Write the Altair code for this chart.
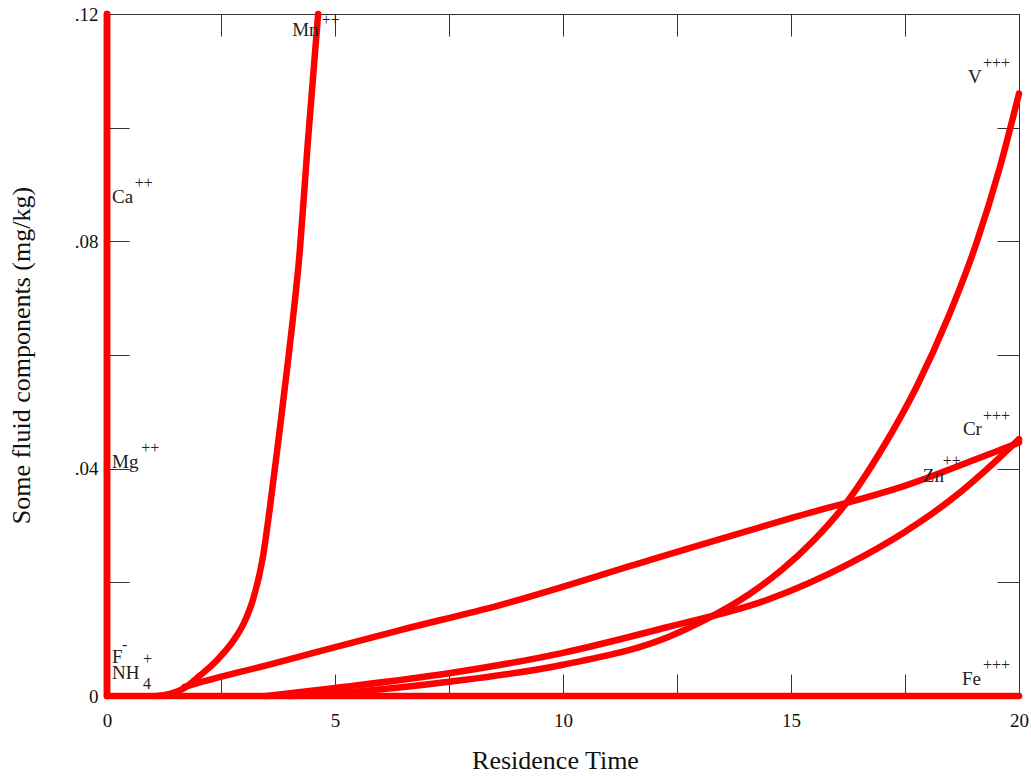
import altair as alt
import pandas as pd

# ---- data ----
ca_t = [0, 0]
ca_v = [0, 0.12]
mg_t = [0, 0]
mg_v = [0, 0.12]
fe_t = [0, 20]
fe_v = [0, 0]
mn_t = [1.1, 1.4, 1.7, 2.04, 2.4, 2.76, 3.0, 3.2, 3.42, 3.57, 3.79, 4.0, 4.23, 4.4, 4.63]
mn_v = [0.0, 0.0004, 0.0014, 0.0036, 0.0062, 0.0096, 0.0128, 0.0169, 0.0245, 0.033, 0.047, 0.061, 0.0785, 0.097, 0.12]
zn_t = [1.7, 2.0, 3.5, 6.43, 8.62, 11.9, 15.0, 17.54, 19.58, 20]
zn_v = [0.0016, 0.0023, 0.0054, 0.0116, 0.0160, 0.0239, 0.0313, 0.0371, 0.0433, 0.0446]
cr_t = [3.5, 5, 7.5, 10, 12.28, 14.47, 16.3, 17.46, 18.5, 19.58, 20]
cr_v = [0.0, 0.0014, 0.0040, 0.0076, 0.0121, 0.0169, 0.0234, 0.0287, 0.0345, 0.0420, 0.0452]
v_t = [4.0, 5.5, 7.5, 10, 12.35, 13.07, 14.1, 14.8, 15.5, 16.14, 17.0, 17.76, 18.44, 19.08, 19.58, 20]
v_v = [0.0, 0.0008, 0.0025, 0.0055, 0.0105, 0.0132, 0.018, 0.0222, 0.0274, 0.0332, 0.0435, 0.0545, 0.0665, 0.080, 0.093, 0.106]

x_ticks = [0, 2.5, 5, 7.5, 10, 12.5, 15, 17.5, 20]
y_ticks = [0, 0.02, 0.04, 0.06, 0.08, 0.10, 0.12]

label_text = ["Mn", "V", "Cr", "Zn", "Fe", "Ca", "Mg", "F", "NH"]
label_t = [4.06, 18.88, 18.77, 17.89, 18.75, 0.11, 0.11, 0.11, 0.11]
label_v = [0.1161, 0.1079, 0.0459, 0.0377, 0.0019, 0.0868, 0.0401, 0.0058, 0.0030]

sup_text = ["++", "+++", "+++", "++", "+++", "++", "++", "-", "+", "4"]
sup_t = [4.71, 19.21, 19.21, 18.33, 19.21, 0.61, 0.75, 0.33, 0.79, 0.79]
sup_v = [0.1181, 0.1105, 0.0484, 0.0405, 0.0046, 0.0894, 0.0428, 0.0081, 0.0056, 0.0012]

straight = [("Ca", ca_t, ca_v), ("Mg", mg_t, mg_v), ("Fe", fe_t, fe_v)]
curved = [("Mn", mn_t, mn_v), ("Zn", zn_t, zn_v), ("Cr", cr_t, cr_v), ("V", v_t, v_v)]


def to_rows(group):
    rows = []
    for name, ts, vs in group:
        for i, (t, v) in enumerate(zip(ts, vs)):
            rows.append({"series": name, "t": t, "v": v, "i": i})
    return pd.DataFrame(rows)


straight_df = to_rows(straight)
curved_df = to_rows(curved)
labels_df = pd.DataFrame({"text": label_text, "t": label_t, "v": label_v})
sups_df = pd.DataFrame({"text": sup_text, "t": sup_t, "v": sup_v})

FONT = "Liberation Serif"
RED = "#ff0000"
xscale = alt.Scale(domain=[0, 20], nice=False, zero=False)
yscale = alt.Scale(domain=[0, 0.12], nice=False, zero=False)

straight_lines = alt.Chart(straight_df).mark_line(
    color=RED, strokeWidth=6.5, strokeCap="round", strokeJoin="round"
).encode(
    x=alt.X("t:Q", scale=xscale, axis=alt.Axis(
        orient="bottom", values=x_ticks, offset=-22, tickSize=22, domain=False, grid=False,
        labelExpr="datum.value % 5 == 0 ? format(datum.value, 'd') : ''",
        labelOverlap=False, labelFlush=False, labelPadding=15,
        labelFont=FONT, labelFontSize=19, labelColor="#111", tickColor="#333",
        title="Residence Time", titleFont=FONT, titleFontSize=26, titleFontWeight="normal",
        titleColor="#111", titlePadding=17, titleX=448)),
    y=alt.Y("v:Q", scale=yscale, axis=alt.Axis(
        orient="left", values=y_ticks, offset=-22, tickSize=22, domain=False, grid=False,
        labelExpr="datum.value == 0 ? '0' : (round(datum.value*100) % 4 == 0 ? replace(format(datum.value, '.2f'), '0.', '.') : '')",
        labelOverlap=False, labelFlush=False, labelPadding=9,
        labelFont=FONT, labelFontSize=19, labelColor="#111", tickColor="#333",
        title="Some fluid components (mg/kg)", titleFont=FONT, titleFontSize=26,
        titleFontWeight="normal", titleColor="#111", titlePadding=40)),
    detail="series:N",
    order="i:Q",
)

curves = alt.Chart(curved_df).mark_line(
    color=RED, strokeWidth=6.5, strokeCap="round", strokeJoin="round", interpolate="monotone"
).encode(
    x=alt.X("t:Q", scale=xscale, axis=None),
    y=alt.Y("v:Q", scale=yscale, axis=None),
    detail="series:N",
    order="i:Q",
)

labels = alt.Chart(labels_df).mark_text(
    align="left", baseline="alphabetic", font=FONT, fontSize=19, color="#222"
).encode(
    x=alt.X("t:Q", scale=xscale, axis=alt.Axis(
        orient="top", values=x_ticks, offset=-22, tickSize=22, domain=False, grid=False,
        labels=False, tickColor="#333", title=None)),
    y=alt.Y("v:Q", scale=yscale, axis=alt.Axis(
        orient="right", values=y_ticks, offset=-22, tickSize=22, domain=False, grid=False,
        labels=False, tickColor="#333", title=None)),
    text="text:N",
)

sups = alt.Chart(sups_df).mark_text(
    align="left", baseline="alphabetic", font=FONT, fontSize=16, color="#222"
).encode(
    x=alt.X("t:Q", scale=xscale, axis=None),
    y=alt.Y("v:Q", scale=yscale, axis=None),
    text="text:N",
)

chart = alt.layer(straight_lines, curves, labels, sups).resolve_axis(
    x="independent", y="independent"
).properties(
    width=912, height=682,
    autosize=alt.AutoSizeParams(type="none"),
    padding={"left": 107, "top": 14, "right": 12, "bottom": 80},
    background="white",
).configure_view(stroke="#333", strokeWidth=1)

chart.save("out.html", embed_options={"renderer": "svg", "actions": False})
